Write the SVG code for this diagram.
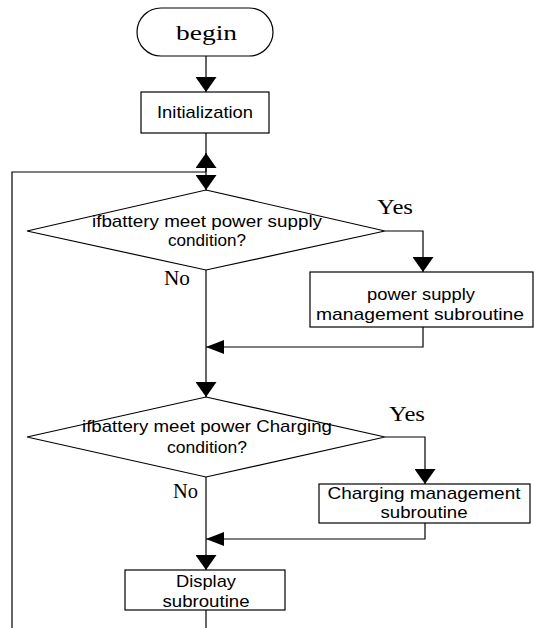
<svg xmlns="http://www.w3.org/2000/svg" width="534" height="628" viewBox="0 0 534 628">
<style>
.shape{fill:#fff;stroke:#000;stroke-width:1.2}
.ln{fill:none;stroke:#000;stroke-width:1.2}
.t{font-family:"Liberation Sans",Arial,sans-serif;font-size:17px;fill:#000;text-anchor:middle}
.s{font-family:"Liberation Serif","Times New Roman",serif;font-size:22px;fill:#000}
</style>
<defs>
<marker id="arrV" markerUnits="userSpaceOnUse" markerWidth="15" markerHeight="21" viewBox="0 0 15 21" refX="15" refY="10.5" orient="auto">
<path d="M0,0 L15,10.5 L0,21 Z" fill="#000"/>
</marker>
<marker id="arrH" markerUnits="userSpaceOnUse" markerWidth="18" markerHeight="14" viewBox="0 0 18 14" refX="18" refY="7" orient="auto">
<path d="M0,0 L18,7 L0,14 Z" fill="#000"/>
</marker>
</defs>
<rect width="534" height="628" fill="#fff"/>
<g id="connectors">
<line class="ln" x1="206" y1="56" x2="206" y2="92" marker-end="url(#arrV)"/>
<line class="ln" x1="206" y1="133" x2="206" y2="190" marker-end="url(#arrV)"/>
<polyline class="ln" points="12,628 12,172 206,172"/>
<line class="ln" x1="206" y1="172" x2="206" y2="153" marker-end="url(#arrV)"/>
<polyline class="ln" points="385,231 423,231 423,272" marker-end="url(#arrV)"/>
<polyline class="ln" points="423,327 423,347 206,347" marker-end="url(#arrH)"/>
<line class="ln" x1="206" y1="270" x2="206" y2="397" marker-end="url(#arrV)"/>
<polyline class="ln" points="385,437 425,437 425,484" marker-end="url(#arrV)"/>
<polyline class="ln" points="425,523 425,539 206,539" marker-end="url(#arrH)"/>
<line class="ln" x1="206" y1="477" x2="206" y2="570" marker-end="url(#arrV)"/>
<line class="ln" x1="206" y1="610" x2="206" y2="628"/>
<text class="s" x="377" y="214" textLength="36" lengthAdjust="spacingAndGlyphs">Yes</text>
<text class="s" x="164" y="285" textLength="26" lengthAdjust="spacingAndGlyphs">No</text>
<text class="s" x="389" y="421" textLength="36" lengthAdjust="spacingAndGlyphs">Yes</text>
<text class="s" x="173" y="498" textLength="25" lengthAdjust="spacingAndGlyphs">No</text>
</g>
<g id="begin">
<rect class="shape" x="137" y="8" width="136" height="48" rx="24"/>
<text class="s" x="176" y="40" textLength="61" lengthAdjust="spacingAndGlyphs">begin</text>
</g>
<g id="init">
<rect class="shape" x="141" y="92" width="128" height="41"/>
<text class="t" x="205" y="118" textLength="96" lengthAdjust="spacingAndGlyphs">Initialization</text>
</g>
<g id="cond1">
<polygon class="shape" points="206,190 385,231 206,270 27,231"/>
<text class="t" x="207" y="227" textLength="230" lengthAdjust="spacingAndGlyphs">ifbattery meet power supply</text>
<text class="t" x="207" y="246" textLength="78" lengthAdjust="spacingAndGlyphs">condition?</text>
</g>
<g id="power">
<rect class="shape" x="310" y="272" width="223" height="55"/>
<text class="t" x="421" y="300" textLength="108" lengthAdjust="spacingAndGlyphs">power supply</text>
<text class="t" x="420" y="320" textLength="208" lengthAdjust="spacingAndGlyphs">management subroutine</text>
</g>
<g id="cond2">
<polygon class="shape" points="206,397 385,437 206,477 27,437"/>
<text class="t" x="207" y="432" textLength="250" lengthAdjust="spacingAndGlyphs">ifbattery meet power Charging</text>
<text class="t" x="207" y="453" textLength="80" lengthAdjust="spacingAndGlyphs">condition?</text>
</g>
<g id="charging">
<rect class="shape" x="319" y="484" width="211" height="39"/>
<text class="t" x="424" y="499" textLength="193" lengthAdjust="spacingAndGlyphs">Charging management</text>
<text class="t" x="424" y="518" textLength="87" lengthAdjust="spacingAndGlyphs">subroutine</text>
</g>
<g id="display">
<rect class="shape" x="125" y="570" width="160" height="40"/>
<text class="t" x="206" y="587" textLength="60" lengthAdjust="spacingAndGlyphs">Display</text>
<text class="t" x="206" y="607" textLength="87" lengthAdjust="spacingAndGlyphs">subroutine</text>
</g>
</svg>
